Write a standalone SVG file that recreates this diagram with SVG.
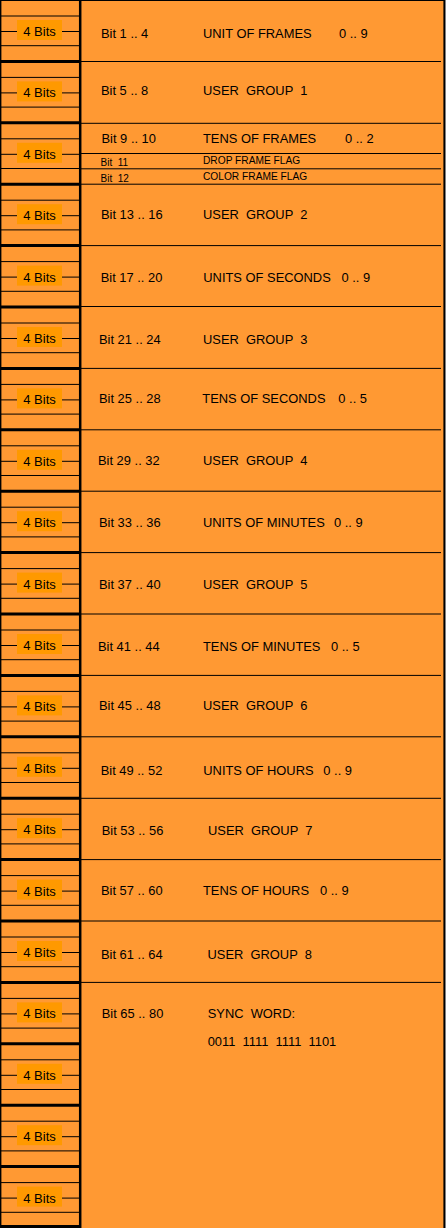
<svg xmlns="http://www.w3.org/2000/svg" width="446" height="1228" viewBox="0 0 446 1228">
<style>
.bg{fill:#FF9933}
.ln{stroke:#000;stroke-width:1;fill:none}
.thk{stroke:#000;stroke-width:3;fill:none}
.lbl{fill:#FF9900}
.t4{font-family:"Liberation Sans",Arial,sans-serif;font-size:13px;fill:#000;text-anchor:middle}
.t{font-family:"Liberation Sans",Arial,sans-serif;font-size:12.9px;fill:#000;white-space:pre}
.ts{font-family:"Liberation Sans",Arial,sans-serif;font-size:10px;fill:#000;white-space:pre}
.tx{font-family:"Liberation Sans",Arial,sans-serif;font-size:10.2px;fill:#000;white-space:pre}
</style>
<rect class="bg" x="0" y="0" width="446" height="1228"/>
<rect x="445" y="0" width="1" height="1228" fill="#808080"/>
<g id="frame">
<line class="ln" x1="0" y1="0.5" x2="445" y2="0.5"/>
<line class="ln" x1="0.7" y1="0" x2="0.7" y2="1228" style="stroke-width:1.4"/>
<line class="ln" x1="444.2" y1="0" x2="444.2" y2="1228" style="stroke-width:1.6"/>
<line class="ln" x1="80.2" y1="0" x2="80.2" y2="1228" style="stroke-width:2.5"/>
<line class="thk" x1="0" y1="1226.5" x2="81" y2="1226.5"/>
</g>
<g id="connectors">
<line class="ln" x1="81" y1="61.5" x2="441" y2="61.5"/>
<line class="ln" x1="81" y1="123.3" x2="441" y2="123.3"/>
<line class="ln" x1="81" y1="153.5" x2="441" y2="153.5"/>
<line class="ln" x1="81" y1="168.8" x2="441" y2="168.8"/>
<line class="ln" x1="81" y1="184.2" x2="441" y2="184.2"/>
<line class="ln" x1="81" y1="245.6" x2="441" y2="245.6"/>
<line class="ln" x1="81" y1="306.5" x2="441" y2="306.5"/>
<line class="ln" x1="81" y1="368.4" x2="441" y2="368.4"/>
<line class="ln" x1="81" y1="429.8" x2="441" y2="429.8"/>
<line class="ln" x1="81" y1="491.2" x2="441" y2="491.2"/>
<line class="ln" x1="81" y1="552.6" x2="441" y2="552.6"/>
<line class="ln" x1="81" y1="614" x2="441" y2="614"/>
<line class="ln" x1="81" y1="675.4" x2="441" y2="675.4"/>
<line class="ln" x1="81" y1="736.8" x2="441" y2="736.8"/>
<line class="ln" x1="81" y1="798.3" x2="441" y2="798.3"/>
<line class="ln" x1="81" y1="859.6" x2="441" y2="859.6"/>
<line class="ln" x1="81" y1="921" x2="441" y2="921"/>
<line class="ln" x1="81" y1="982.4" x2="441" y2="982.4"/>
</g>
<g id="bits-0" transform="translate(0,0)"><line class="ln" x1="1" y1="16" x2="80" y2="16"/><line class="ln" x1="1" y1="31.5" x2="80" y2="31.5"/><line class="ln" x1="1" y1="45.7" x2="80" y2="45.7"/><rect class="lbl" x="17" y="20" width="45" height="20"/><text class="t4" x="39.5" y="36">4 Bits</text></g>
<g id="bits-1" transform="translate(0,61.4)"><line class="thk" x1="1" y1="0" x2="80" y2="0"/><line class="ln" x1="1" y1="16" x2="80" y2="16"/><line class="ln" x1="1" y1="31.5" x2="80" y2="31.5"/><line class="ln" x1="1" y1="45.7" x2="80" y2="45.7"/><rect class="lbl" x="17" y="20" width="45" height="20"/><text class="t4" x="39.5" y="36">4 Bits</text></g>
<g id="bits-2" transform="translate(0,122.8)"><line class="thk" x1="1" y1="0" x2="80" y2="0"/><line class="ln" x1="1" y1="16" x2="80" y2="16"/><line class="ln" x1="1" y1="31.5" x2="80" y2="31.5"/><line class="ln" x1="1" y1="45.7" x2="80" y2="45.7"/><rect class="lbl" x="17" y="20" width="45" height="20"/><text class="t4" x="39.5" y="36">4 Bits</text></g>
<g id="bits-3" transform="translate(0,184.2)"><line class="thk" x1="1" y1="0" x2="80" y2="0"/><line class="ln" x1="1" y1="16" x2="80" y2="16"/><line class="ln" x1="1" y1="31.5" x2="80" y2="31.5"/><line class="ln" x1="1" y1="45.7" x2="80" y2="45.7"/><rect class="lbl" x="17" y="20" width="45" height="20"/><text class="t4" x="39.5" y="36">4 Bits</text></g>
<g id="bits-4" transform="translate(0,245.6)"><line class="thk" x1="1" y1="0" x2="80" y2="0"/><line class="ln" x1="1" y1="16" x2="80" y2="16"/><line class="ln" x1="1" y1="31.5" x2="80" y2="31.5"/><line class="ln" x1="1" y1="45.7" x2="80" y2="45.7"/><rect class="lbl" x="17" y="20" width="45" height="20"/><text class="t4" x="39.5" y="36">4 Bits</text></g>
<g id="bits-5" transform="translate(0,307)"><line class="thk" x1="1" y1="0" x2="80" y2="0"/><line class="ln" x1="1" y1="16" x2="80" y2="16"/><line class="ln" x1="1" y1="31.5" x2="80" y2="31.5"/><line class="ln" x1="1" y1="45.7" x2="80" y2="45.7"/><rect class="lbl" x="17" y="20" width="45" height="20"/><text class="t4" x="39.5" y="36">4 Bits</text></g>
<g id="bits-6" transform="translate(0,368.4)"><line class="thk" x1="1" y1="0" x2="80" y2="0"/><line class="ln" x1="1" y1="16" x2="80" y2="16"/><line class="ln" x1="1" y1="31.5" x2="80" y2="31.5"/><line class="ln" x1="1" y1="45.7" x2="80" y2="45.7"/><rect class="lbl" x="17" y="20" width="45" height="20"/><text class="t4" x="39.5" y="36">4 Bits</text></g>
<g id="bits-7" transform="translate(0,429.8)"><line class="thk" x1="1" y1="0" x2="80" y2="0"/><line class="ln" x1="1" y1="16" x2="80" y2="16"/><line class="ln" x1="1" y1="31.5" x2="80" y2="31.5"/><line class="ln" x1="1" y1="45.7" x2="80" y2="45.7"/><rect class="lbl" x="17" y="20" width="45" height="20"/><text class="t4" x="39.5" y="36">4 Bits</text></g>
<g id="bits-8" transform="translate(0,491.2)"><line class="thk" x1="1" y1="0" x2="80" y2="0"/><line class="ln" x1="1" y1="16" x2="80" y2="16"/><line class="ln" x1="1" y1="31.5" x2="80" y2="31.5"/><line class="ln" x1="1" y1="45.7" x2="80" y2="45.7"/><rect class="lbl" x="17" y="20" width="45" height="20"/><text class="t4" x="39.5" y="36">4 Bits</text></g>
<g id="bits-9" transform="translate(0,552.6)"><line class="thk" x1="1" y1="0" x2="80" y2="0"/><line class="ln" x1="1" y1="16" x2="80" y2="16"/><line class="ln" x1="1" y1="31.5" x2="80" y2="31.5"/><line class="ln" x1="1" y1="45.7" x2="80" y2="45.7"/><rect class="lbl" x="17" y="20" width="45" height="20"/><text class="t4" x="39.5" y="36">4 Bits</text></g>
<g id="bits-10" transform="translate(0,614)"><line class="thk" x1="1" y1="0" x2="80" y2="0"/><line class="ln" x1="1" y1="16" x2="80" y2="16"/><line class="ln" x1="1" y1="31.5" x2="80" y2="31.5"/><line class="ln" x1="1" y1="45.7" x2="80" y2="45.7"/><rect class="lbl" x="17" y="20" width="45" height="20"/><text class="t4" x="39.5" y="36">4 Bits</text></g>
<g id="bits-11" transform="translate(0,675.4)"><line class="thk" x1="1" y1="0" x2="80" y2="0"/><line class="ln" x1="1" y1="16" x2="80" y2="16"/><line class="ln" x1="1" y1="31.5" x2="80" y2="31.5"/><line class="ln" x1="1" y1="45.7" x2="80" y2="45.7"/><rect class="lbl" x="17" y="20" width="45" height="20"/><text class="t4" x="39.5" y="36">4 Bits</text></g>
<g id="bits-12" transform="translate(0,736.8)"><line class="thk" x1="1" y1="0" x2="80" y2="0"/><line class="ln" x1="1" y1="16" x2="80" y2="16"/><line class="ln" x1="1" y1="31.5" x2="80" y2="31.5"/><line class="ln" x1="1" y1="45.7" x2="80" y2="45.7"/><rect class="lbl" x="17" y="20" width="45" height="20"/><text class="t4" x="39.5" y="36">4 Bits</text></g>
<g id="bits-13" transform="translate(0,798.2)"><line class="thk" x1="1" y1="0" x2="80" y2="0"/><line class="ln" x1="1" y1="16" x2="80" y2="16"/><line class="ln" x1="1" y1="31.5" x2="80" y2="31.5"/><line class="ln" x1="1" y1="45.7" x2="80" y2="45.7"/><rect class="lbl" x="17" y="20" width="45" height="20"/><text class="t4" x="39.5" y="36">4 Bits</text></g>
<g id="bits-14" transform="translate(0,859.6)"><line class="thk" x1="1" y1="0" x2="80" y2="0"/><line class="ln" x1="1" y1="16" x2="80" y2="16"/><line class="ln" x1="1" y1="31.5" x2="80" y2="31.5"/><line class="ln" x1="1" y1="45.7" x2="80" y2="45.7"/><rect class="lbl" x="17" y="20" width="45" height="20"/><text class="t4" x="39.5" y="36">4 Bits</text></g>
<g id="bits-15" transform="translate(0,921)"><line class="thk" x1="1" y1="0" x2="80" y2="0"/><line class="ln" x1="1" y1="16" x2="80" y2="16"/><line class="ln" x1="1" y1="31.5" x2="80" y2="31.5"/><line class="ln" x1="1" y1="45.7" x2="80" y2="45.7"/><rect class="lbl" x="17" y="20" width="45" height="20"/><text class="t4" x="39.5" y="36">4 Bits</text></g>
<g id="bits-16" transform="translate(0,982.4)"><line class="thk" x1="1" y1="0" x2="80" y2="0"/><line class="ln" x1="1" y1="16" x2="80" y2="16"/><line class="ln" x1="1" y1="31.5" x2="80" y2="31.5"/><line class="ln" x1="1" y1="45.7" x2="80" y2="45.7"/><rect class="lbl" x="17" y="20" width="45" height="20"/><text class="t4" x="39.5" y="36">4 Bits</text></g>
<g id="bits-17" transform="translate(0,1043.8)"><line class="thk" x1="1" y1="0" x2="80" y2="0"/><line class="ln" x1="1" y1="16" x2="80" y2="16"/><line class="ln" x1="1" y1="31.5" x2="80" y2="31.5"/><line class="ln" x1="1" y1="45.7" x2="80" y2="45.7"/><rect class="lbl" x="17" y="20" width="45" height="20"/><text class="t4" x="39.5" y="36">4 Bits</text></g>
<g id="bits-18" transform="translate(0,1105.2)"><line class="thk" x1="1" y1="0" x2="80" y2="0"/><line class="ln" x1="1" y1="16" x2="80" y2="16"/><line class="ln" x1="1" y1="31.5" x2="80" y2="31.5"/><line class="ln" x1="1" y1="45.7" x2="80" y2="45.7"/><rect class="lbl" x="17" y="20" width="45" height="20"/><text class="t4" x="39.5" y="36">4 Bits</text></g>
<g id="bits-19" transform="translate(0,1166.6)"><line class="thk" x1="1" y1="0" x2="80" y2="0"/><line class="ln" x1="1" y1="16" x2="80" y2="16"/><line class="ln" x1="1" y1="31.5" x2="80" y2="31.5"/><line class="ln" x1="1" y1="45.7" x2="80" y2="45.7"/><rect class="lbl" x="17" y="20" width="45" height="20"/><text class="t4" x="39.5" y="36">4 Bits</text></g>

<g id="row-0"><text class="t" x="101" y="38">Bit 1 .. 4</text><text class="t" x="203" y="38">UNIT OF FRAMES</text><text class="t" x="339" y="38">0 .. 9</text></g>
<g id="row-1"><text class="t" x="101" y="95">Bit 5 .. 8</text><text class="t" x="203" y="95">USER  GROUP  1</text></g>
<g id="row-2"><text class="t" x="101.5" y="143">Bit 9 .. 10</text><text class="t" x="203" y="143">TENS OF FRAMES</text><text class="t" x="345" y="143">0 .. 2</text>
<text class="ts" x="100.5" y="165.7">Bit  11</text><text class="tx" x="203" y="164.3">DROP FRAME FLAG</text>
<text class="ts" x="100.5" y="181.5">Bit  12</text><text class="tx" x="203" y="180">COLOR FRAME FLAG</text></g>
<g id="row-3"><text class="t" x="101" y="219">Bit 13 .. 16</text><text class="t" x="203" y="219">USER  GROUP  2</text></g>
<g id="row-4"><text class="t" x="100.7" y="281.5">Bit 17 .. 20</text><text class="t" x="203.3" y="281.5">UNITS OF SECONDS</text><text class="t" x="341.5" y="281.5">0 .. 9</text></g>
<g id="row-5"><text class="t" x="99" y="344">Bit 21 .. 24</text><text class="t" x="203" y="344">USER  GROUP  3</text></g>
<g id="row-6"><text class="t" x="99" y="403.3">Bit 25 .. 28</text><text class="t" x="202.3" y="403.3">TENS OF SECONDS</text><text class="t" x="338.3" y="403.3">0 .. 5</text></g>
<g id="row-7"><text class="t" x="98" y="465">Bit 29 .. 32</text><text class="t" x="203" y="465">USER  GROUP  4</text></g>
<g id="row-8"><text class="t" x="99" y="527">Bit 33 .. 36</text><text class="t" x="203" y="527">UNITS OF MINUTES</text><text class="t" x="334" y="527">0 .. 9</text></g>
<g id="row-9"><text class="t" x="99" y="589">Bit 37 .. 40</text><text class="t" x="203" y="589">USER  GROUP  5</text></g>
<g id="row-10"><text class="t" x="98" y="651">Bit 41 .. 44</text><text class="t" x="203" y="651">TENS OF MINUTES</text><text class="t" x="331" y="651">0 .. 5</text></g>
<g id="row-11"><text class="t" x="99" y="710">Bit 45 .. 48</text><text class="t" x="203" y="710">USER  GROUP  6</text></g>
<g id="row-12"><text class="t" x="100.7" y="775">Bit 49 .. 52</text><text class="t" x="203.3" y="775">UNITS OF HOURS</text><text class="t" x="323.3" y="775">0 .. 9</text></g>
<g id="row-13"><text class="t" x="101.7" y="835">Bit 53 .. 56</text><text class="t" x="208" y="835">USER  GROUP  7</text></g>
<g id="row-14"><text class="t" x="101" y="895">Bit 57 .. 60</text><text class="t" x="203" y="895">TENS OF HOURS</text><text class="t" x="320" y="895">0 .. 9</text></g>
<g id="row-15"><text class="t" x="101" y="959">Bit 61 .. 64</text><text class="t" x="207.5" y="959">USER  GROUP  8</text></g>
<g id="row-16"><text class="t" x="101.7" y="1018.3">Bit 65 .. 80</text><text class="t" x="207.7" y="1018.3">SYNC  WORD:</text><text class="t" x="207.7" y="1045.7">0011  1111  1111  1101</text></g>
</svg>
